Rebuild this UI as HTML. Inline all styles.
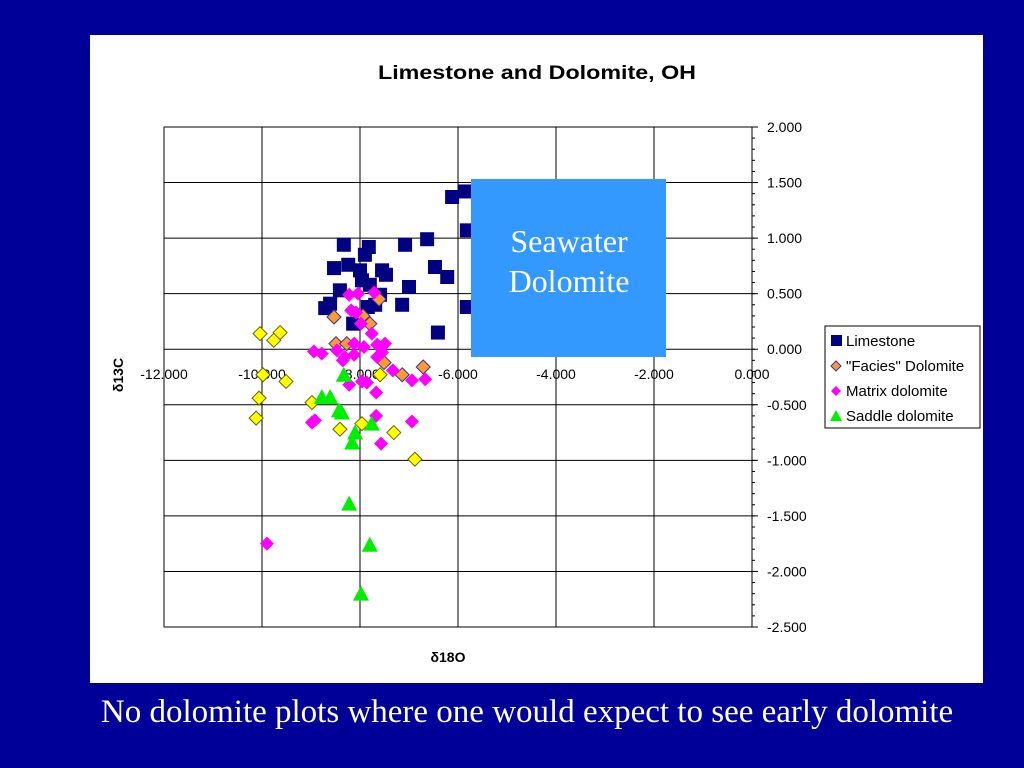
<!DOCTYPE html>
<html><head><meta charset="utf-8">
<style>
body{margin:0;width:1024px;height:768px;background:#000099;overflow:hidden;font-family:"Liberation Sans",sans-serif}
#chartbox{position:absolute;left:90px;top:35px;width:893px;height:648px;background:#fff}
#caption{position:absolute;left:0;width:1054px;top:694px;text-align:center;color:#fff;font-family:"Liberation Serif",serif;font-size:33px;white-space:nowrap}
</style></head><body>
<div id="chartbox"></div>
<svg id="svg" width="1024" height="768" style="position:absolute;left:0;top:0"></svg>
<div id="caption">No dolomite plots where one would expect to see early dolomite</div>
<script>
const xTicks=[-12,-10,-8,-6,-4,-2,0];
const yTicks=[2,1.5,1,0.5,0,-0.5,-1,-1.5,-2,-2.5];
const limestoneX=[-8.33,-7.82,-7.90,-7.08,-6.63,-6.12,-5.86,-5.82,-6.47,-6.22,-7.55,-7.47,-8.53,-8.24,-8.00,-7.96,-8.41,-7.00,-7.14,-7.69,-8.71,-8.61,-8.14,-6.41,-5.82,-7.80,-7.59,-7.84];
const limestoneY=[0.94,0.92,0.85,0.94,0.99,1.37,1.42,1.07,0.74,0.65,0.71,0.67,0.73,0.76,0.71,0.62,0.53,0.56,0.40,0.40,0.37,0.41,0.23,0.15,0.38,0.58,0.49,0.38];
const faciesX=[-8.53,-7.61,-7.94,-7.80,-8.49,-8.27,-7.51,-7.14,-6.71];
const faciesY=[0.29,0.45,0.30,0.23,0.05,0.05,-0.12,-0.23,-0.16];
const matrixX=[-8.22,-8.04,-7.71,-8.18,-8.08,-7.98,-7.76,-8.94,-8.78,-8.47,-8.12,-7.92,-7.65,-7.49,-7.55,-8.31,-7.65,-8.12,-7.33,-6.94,-6.67,-7.96,-7.86,-8.22,-7.67,-8.98,-8.92,-7.67,-6.94,-7.57,-9.90,-8.35];
const matrixY=[0.49,0.50,0.51,0.35,0.33,0.23,0.14,-0.02,-0.04,-0.01,0.05,0.02,0.04,0.05,-0.03,-0.07,-0.07,-0.05,-0.19,-0.28,-0.27,-0.29,-0.30,-0.32,-0.39,-0.66,-0.64,-0.60,-0.65,-0.85,-1.75,-0.10];
const saddleX=[-8.78,-8.61,-8.43,-8.37,-8.10,-8.16,-7.76,-8.22,-7.80,-7.98,-8.33];
const saddleY=[-0.43,-0.43,-0.55,-0.57,-0.75,-0.84,-0.67,-1.39,-1.76,-2.20,-0.23];
const otherX=[-10.04,-9.76,-9.63,-9.98,-9.51,-10.06,-8.98,-10.12,-8.41,-7.96,-7.31,-6.88,-7.59];
const otherY=[0.14,0.08,0.15,-0.23,-0.29,-0.44,-0.48,-0.62,-0.72,-0.67,-0.75,-0.99,-0.23];

const svg=document.getElementById('svg');const NS='http://www.w3.org/2000/svg';
const X0=164,X1=752,Y0=127,Y1=627;
const sx=v=>X0+(v+12)/12*(X1-X0);
const sy=v=>Y0+(2-v)/4.5*(Y1-Y0);
function mk(tag,attrs,parent){const e=document.createElementNS(NS,tag);for(const k in attrs)e.setAttribute(k,attrs[k]);(parent||svg).appendChild(e);return e;}

const grid=mk('g',{});


mk('rect',{x:X0,y:Y0,width:X1-X0,height:Y1-Y0,fill:'none',stroke:'#808080','stroke-width':1},grid);
xTicks.forEach(t=>{const l=mk('line',{x1:sx(t),x2:sx(t),y1:Y0,y2:Y1,stroke:'#000','stroke-width':1},grid);


const tx=mk('text',{x:sx(t),y:sy(0)+30,'font-size':14,'text-anchor':'middle'});tx.textContent=t.toFixed(3);

});
yTicks.forEach(t=>{const l=mk('line',{x1:X0,x2:X1,y1:sy(t),y2:sy(t),stroke:'#000','stroke-width':1},grid);


mk('line',{x1:X1,x2:X1+6,y1:sy(t),y2:sy(t),stroke:'#000'});
const tx=mk('text',{x:X1+15,y:sy(t)+5,'font-size':14});tx.textContent=t.toFixed(3);

});
for(let v=2;v>=-2.5;v-=0.1){mk('line',{x1:X1,x2:X1+3,y1:sy(v),y2:sy(v),stroke:'#000'});}
mk('line',{x1:X1,x2:X1,y1:Y0,y2:Y1,stroke:'#000'});

function square(x,y,c){return mk('rect',{x:x-7,y:y-7,width:14,height:14,fill:c});}
function diamond(x,y,f,s){return mk('polygon',{points:`${x},${y-7} ${x+7},${y} ${x},${y+7} ${x-7},${y}`,fill:f,stroke:s,'stroke-width':1});}
function tri(x,y){return mk('polygon',{points:`${x},${y-8} ${x+8},${y+7} ${x-8},${y+7}`,fill:'#00ee00'});}

otherX.forEach((v,i)=>{const e=diamond(sx(v),sy(otherY[i]),'#ffff00','#666600');

});
limestoneX.forEach((v,i)=>{const e=square(sx(v),sy(limestoneY[i]),'#000080');

});
faciesX.forEach((v,i)=>{const e=diamond(sx(v),sy(faciesY[i]),'#ff9933','#333399');

});
matrixX.forEach((v,i)=>{const e=diamond(sx(v),sy(matrixY[i]),'#ff00ff','none');

});
saddleX.forEach((v,i)=>{const e=tri(sx(v),sy(saddleY[i]));

});

const box=mk('rect',{x:471,y:179,width:195,height:178,fill:'#3399ff'});


[['Seawater',252],['Dolomite',292]].forEach(([s,y])=>{const t=mk('text',{x:569,y:y,'font-size':32,fill:'#fff','text-anchor':'middle','font-family':'Liberation Serif,serif'});t.textContent=s;

});

const title=mk('text',{x:378,y:79,'font-size':19,'font-weight':'bold',textLength:318,lengthAdjust:'spacingAndGlyphs'});title.textContent='Limestone and Dolomite, OH';


const xt=mk('text',{x:448,y:662,'font-size':14,'font-weight':'bold','text-anchor':'middle'});xt.textContent='δ18O';


const yt=mk('text',{x:0,y:0,'font-size':14,'font-weight':'bold','text-anchor':'middle',transform:'translate(123,375) rotate(-90)'});yt.textContent='δ13C';



const lg=mk('g',{});


mk('rect',{x:825,y:326,width:155,height:102,fill:'#fff',stroke:'#000'},lg);
const items=[['Limestone','sq'],['"Facies" Dolomite','fd'],['Matrix dolomite','md'],['Saddle dolomite','tr']];
items.forEach(([n,k],i)=>{const y=341+i*25;
if(k==='sq')mk('rect',{x:831,y:y-6,width:11,height:11,fill:'#000080'},lg);
else if(k==='fd')mk('polygon',{points:`836,${y-5} 841,${y} 836,${y+5} 831,${y}`,fill:'#ff9933',stroke:'#333399'},lg);
else if(k==='md')mk('polygon',{points:`836,${y-5} 841,${y} 836,${y+5} 831,${y}`,fill:'#ff00ff'},lg);
else mk('polygon',{points:`836,${y-6} 842,${y+5} 830,${y+5}`,fill:'#00ee00'},lg);
const t=mk('text',{x:846,y:y+5,'font-size':15},lg);t.textContent=n;

});
</script>
</body></html>
